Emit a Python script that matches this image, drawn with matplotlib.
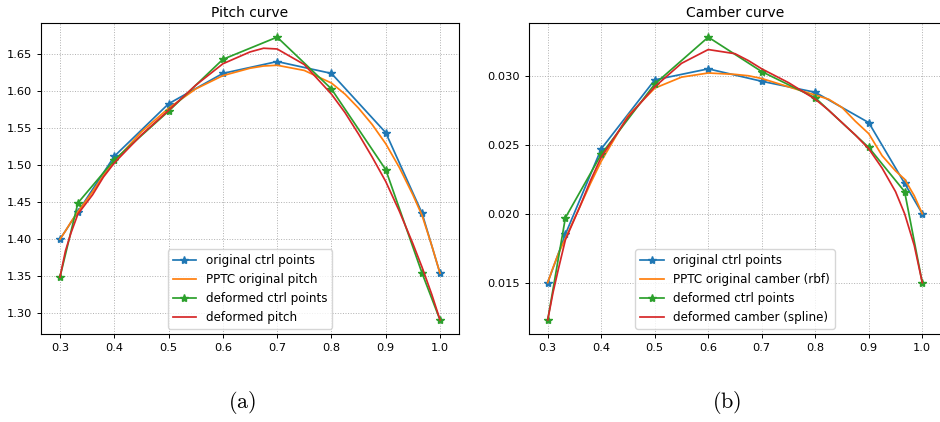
import numpy as np
import matplotlib
matplotlib.use("Agg")
import matplotlib.pyplot as plt

plt.rcParams["mathtext.fontset"] = "cm"

# control point radii
ctrl_r = [0.3, 0.333, 0.4, 0.5, 0.6, 0.7, 0.8, 0.9, 0.967, 1.0]

# pitch: control points
pitch_orig_ctrl = [1.400, 1.437, 1.512, 1.583, 1.624, 1.640, 1.624, 1.544, 1.435, 1.354]
pitch_def_ctrl = [1.349, 1.449, 1.507, 1.573, 1.643, 1.673, 1.603, 1.494, 1.354, 1.291]

# camber: control points
camber_orig_ctrl = [0.0150, 0.0185, 0.0247, 0.0297, 0.0305, 0.0296, 0.0288, 0.0266, 0.0222, 0.0200]
camber_def_ctrl = [0.0123, 0.0197, 0.0243, 0.0294, 0.0328, 0.0303, 0.0284, 0.0248, 0.0216, 0.0150]

curve_r = [0.3, 0.31, 0.32, 0.333, 0.36, 0.38, 0.4, 0.45, 0.5, 0.55, 0.6, 0.65, 0.675,
           0.7, 0.75, 0.8, 0.825, 0.85, 0.875, 0.9, 0.925, 0.95, 0.967, 0.985, 1.0]

pitch_pptc = [1.400, 1.411, 1.423, 1.437, 1.464, 1.486, 1.505, 1.545, 1.577, 1.603, 1.621, 1.631, 1.634,
              1.635, 1.628, 1.611, 1.596, 1.577, 1.555, 1.529, 1.497, 1.460, 1.432, 1.391, 1.354]
pitch_def = [1.349, 1.384, 1.408, 1.434, 1.460, 1.484, 1.503, 1.541, 1.574, 1.608, 1.637, 1.653, 1.658,
             1.657, 1.636, 1.596, 1.571, 1.542, 1.511, 1.478, 1.438, 1.394, 1.362, 1.325, 1.291]

camber_pptc = [0.0150, 0.0161, 0.0171, 0.0182, 0.0205, 0.0222, 0.0238, 0.0271, 0.0291, 0.0299, 0.0302, 0.0301, 0.0300,
               0.0298, 0.0292, 0.0286, 0.0283, 0.0277, 0.0267, 0.0258, 0.0242, 0.0231, 0.0225, 0.0213, 0.0200]
camber_def = [0.0123, 0.0143, 0.0160, 0.0181, 0.0205, 0.0224, 0.0241, 0.0270, 0.0292, 0.0309, 0.0319, 0.0316, 0.0311,
              0.0305, 0.0295, 0.0283, 0.0275, 0.0266, 0.0257, 0.0247, 0.0233, 0.0216, 0.0200, 0.0177, 0.0150]

fs = 8.2
lw = 1.25
ms = 6

fig = plt.figure(figsize=(9.4, 4.22), dpi=100)
ax0 = fig.add_axes([41 / 940, 88 / 422, 418 / 940, 311 / 422])
ax1 = fig.add_axes([529 / 940, 88 / 422, 412 / 940, 311 / 422])


def draw(ax, orig_ctrl, pptc, def_ctrl, deformed, labels, title):
    ax.plot(ctrl_r, orig_ctrl, color="tab:blue", marker="*", lw=lw, ms=ms, label=labels[0])
    ax.plot(curve_r, pptc, color="tab:orange", lw=lw, label=labels[1])
    ax.plot(ctrl_r, def_ctrl, color="tab:green", marker="*", lw=lw, ms=ms, label=labels[2])
    ax.plot(curve_r, deformed, color="tab:red", lw=lw, label=labels[3])
    ax.grid(ls=":", lw=0.7)
    ax.set_xticks([0.3, 0.4, 0.5, 0.6, 0.7, 0.8, 0.9, 1.0])
    ax.tick_params(labelsize=fs, width=0.7, length=3)
    for s in ax.spines.values():
        s.set_linewidth(0.8)
    ax.set_title(title, fontsize=10, pad=4)
    ax.legend(loc="lower center", fontsize=8.6, handlelength=2.0, labelspacing=0.5,
              borderaxespad=0.45)


draw(ax0, pitch_orig_ctrl, pitch_pptc, pitch_def_ctrl, pitch_def,
     ["original ctrl points", "PPTC original pitch", "deformed ctrl points", "deformed pitch"],
     "Pitch curve")
ax0.set_yticks([1.30, 1.35, 1.40, 1.45, 1.50, 1.55, 1.60, 1.65])

draw(ax1, camber_orig_ctrl, camber_pptc, camber_def_ctrl, camber_def,
     ["original ctrl points", "PPTC original camber (rbf)", "deformed ctrl points", "deformed camber (spline)"],
     "Camber curve")
ax1.set_yticks([0.015, 0.020, 0.025, 0.030])

fig.text(242 / 940, 1 - 402 / 422, r"$\mathrm{(a)}$", ha="center", va="center", fontsize=16)
fig.text(727 / 940, 1 - 402 / 422, r"$\mathrm{(b)}$", ha="center", va="center", fontsize=16)

fig.savefig("out.png", dpi=100)
